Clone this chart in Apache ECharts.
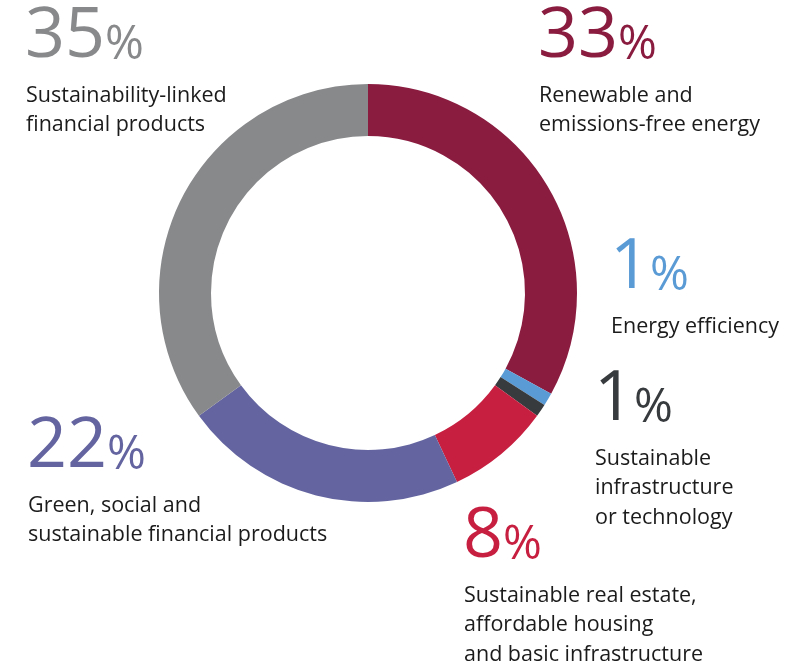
<!DOCTYPE html>
<html>
<head>
<meta charset="utf-8">
<script src="https://cdn.jsdelivr.net/npm/echarts@6/dist/echarts.min.js"></script>
<style>
  html, body { margin: 0; padding: 0; background: #ffffff; }
  #chart { width: 812px; height: 667px; }
</style>
</head>
<body>
<div id="chart"></div>
<script>
// Share of each category (percent), clockwise from 12 o'clock
const categories = [
  ['Renewable and', 'emissions-free energy'],
  ['Energy efficiency'],
  ['Sustainable', 'infrastructure', 'or technology'],
  ['Sustainable real estate,', 'affordable housing', 'and basic infrastructure'],
  ['Green, social and', 'sustainable financial products'],
  ['Sustainability-linked', 'financial products']
];
const values = [33, 1, 1, 8, 22, 35];
const colors = ['#8a1c40', '#5b9bd5', '#383b3e', '#c71f40', '#6465a0', '#88898b'];

// Where each callout sits: left x and baseline y of the big number
const callouts = [
  { x: 538, y: 62 },
  { x: 610, y: 293 },
  { x: 594, y: 425 },
  { x: 463, y: 562 },
  { x: 27, y: 472 },
  { x: 25, y: 62 }
];

const NUM_FONT = 70, PCT_FONT = 47, LABEL_FONT = 21.5, LINE_H = 29.5;
const FAMILY = '"Open Sans", sans-serif';

const chart = echarts.init(document.getElementById('chart'), null, { renderer: 'canvas' });

const graphics = [];
values.forEach((v, i) => {
  const c = callouts[i];
  graphics.push({
    type: 'text',
    left: c.x,
    top: c.y - NUM_FONT * 0.86,
    style: {
      text: '{n|' + v + '}{p|%}',
      rich: {
        n: { fontSize: NUM_FONT, fontWeight: 'normal', fontFamily: FAMILY, fill: colors[i],
             lineHeight: NUM_FONT, verticalAlign: 'bottom' },
        p: { fontSize: PCT_FONT, fontWeight: 'normal', fontFamily: FAMILY, fill: colors[i],
             lineHeight: PCT_FONT, verticalAlign: 'bottom', padding: [0, 0, 3, 0] }
      }
    }
  });
  graphics.push({
    type: 'text',
    left: c.x + 1,
    top: c.y + 19,
    style: {
      text: categories[i].join('\n'),
      fontSize: LABEL_FONT,
      lineHeight: LINE_H,
      fontFamily: FAMILY,
      fill: '#1b1b1b'
    }
  });
});

chart.setOption({
  animation: false,
  backgroundColor: '#ffffff',
  series: [{
    type: 'pie',
    center: [368, 293],
    radius: [157, 209],
    startAngle: 90,
    clockwise: true,
    label: { show: false },
    labelLine: { show: false },
    emphasis: { disabled: true },
    itemStyle: { borderWidth: 0 },
    data: values.map((v, i) => ({
      value: v,
      name: categories[i].join(' '),
      itemStyle: { color: colors[i] }
    }))
  }],
  graphic: graphics
});
</script>
</body>
</html>
